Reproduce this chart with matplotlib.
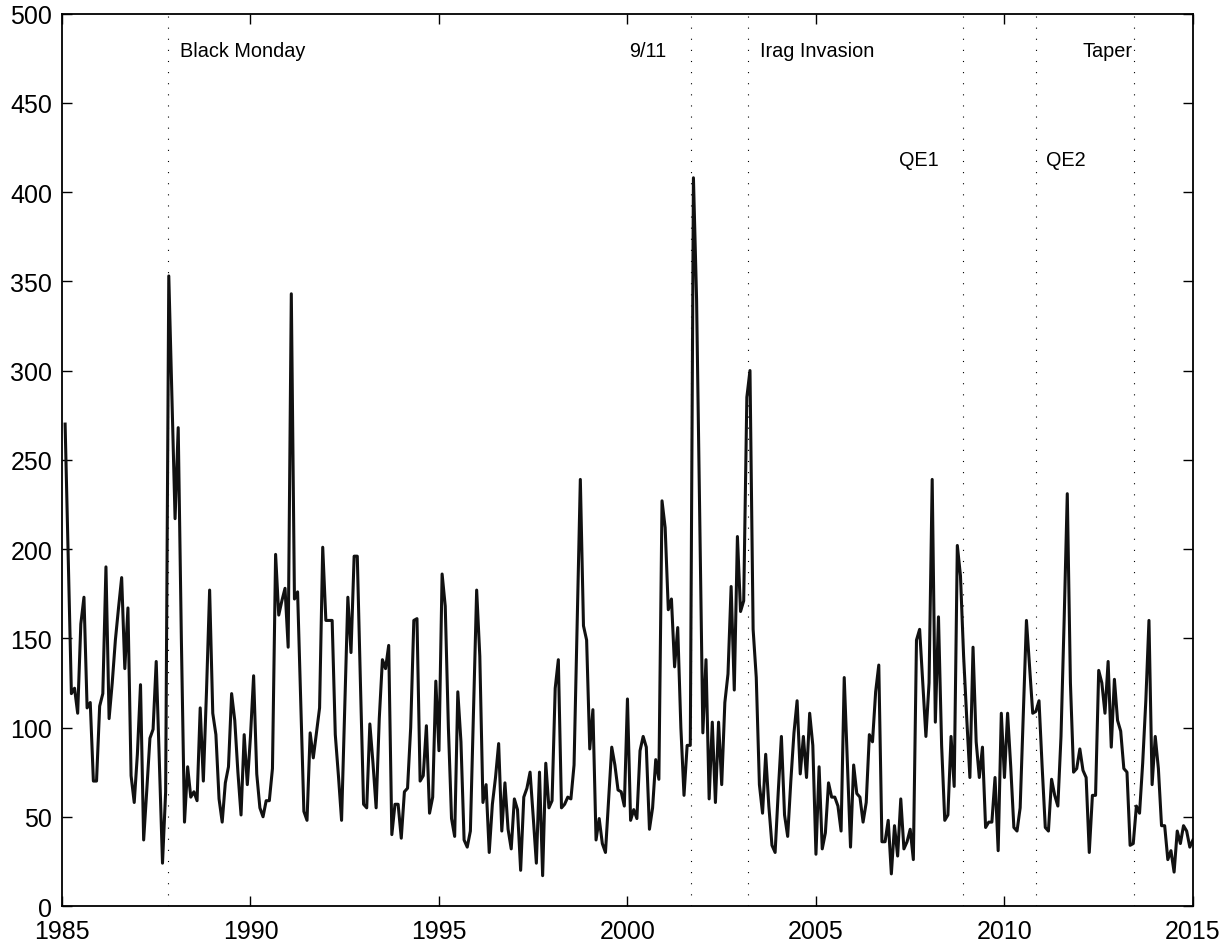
import numpy as np
import matplotlib
matplotlib.use("Agg")
import matplotlib.pyplot as plt

plt.rcParams['font.family'] = ['Liberation Sans', 'DejaVu Sans']

# monthly index values, Jan 1985 .. Dec 2014
values = [
    270, 195, 119, 122, 108, 158, 173, 111, 114, 70,
    70, 112, 119, 190, 105, 125, 149, 167, 184, 133,
    167, 73, 58, 85, 124, 37, 65, 94, 99, 137,
    80, 24, 64, 353, 285, 217, 268, 150, 47, 78,
    61, 64, 59, 111, 70, 120, 177, 108, 96, 60,
    47, 69, 78, 119, 104, 75, 51, 96, 68, 95,
    129, 74, 55, 50, 59, 59, 77, 197, 163, 171,
    178, 145, 343, 172, 176, 115, 53, 48, 97, 83,
    97, 111, 201, 160, 160, 160, 96, 73, 48, 111,
    173, 142, 196, 196, 125, 57, 55, 102, 80, 55,
    105, 138, 133, 146, 40, 57, 57, 38, 64, 66,
    100, 160, 161, 70, 73, 101, 52, 61, 126, 87,
    186, 168, 100, 49, 39, 120, 92, 37, 33, 42,
    110, 177, 140, 58, 68, 30, 57, 72, 91, 42,
    69, 43, 32, 60, 54, 20, 61, 66, 75, 50,
    24, 75, 17, 80, 55, 59, 122, 138, 55, 57,
    61, 60, 79, 160, 239, 157, 149, 88, 110, 37,
    49, 35, 30, 60, 89, 79, 65, 64, 56, 116,
    48, 54, 49, 87, 95, 89, 43, 55, 82, 71,
    227, 212, 166, 172, 134, 156, 100, 62, 90, 90,
    408, 340, 218, 97, 138, 60, 103, 58, 103, 68,
    114, 130, 179, 121, 207, 165, 171, 285, 300, 155,
    128, 68, 52, 85, 56, 34, 30, 64, 95, 51,
    39, 70, 97, 115, 74, 95, 72, 108, 90, 29,
    78, 32, 41, 69, 61, 61, 56, 42, 128, 80,
    33, 79, 63, 61, 47, 58, 96, 92, 120, 135,
    36, 36, 48, 18, 45, 28, 60, 32, 36, 43,
    26, 149, 155, 125, 95, 125, 239, 103, 162, 90,
    48, 51, 95, 67, 202, 185, 140, 105, 72, 145,
    92, 72, 89, 44, 47, 47, 72, 31, 108, 72,
    108, 78, 44, 42, 55, 108, 160, 134, 108, 109,
    115, 78, 44, 42, 71, 62, 56, 95, 160, 231,
    125, 75, 77, 88, 76, 72, 30, 62, 62, 132,
    125, 108, 137, 89, 127, 104, 98, 77, 75, 34,
    35, 56, 52, 80, 115, 160, 68, 95, 77, 45,
    45, 26, 31, 19, 42, 35, 45, 42, 33, 37,
]
dates = 1985 + (np.arange(len(values)) + 1) / 12.0

event_dates = [1987.80, 2001.69, 2003.21, 2008.89, 2010.83, 2013.44]
event_labels = ["Black Monday", "9/11", "Irag Invasion", "QE1", "QE2", "Taper"]
label_x = [1988.13, 2001.03, 2003.52, 2008.27, 2011.10, 2013.39]
label_y = [476, 476, 476, 415, 415, 476]
label_ha = ["left", "right", "left", "right", "left", "right"]

fig = plt.figure(figsize=(12.32, 9.45), dpi=100)
ax = fig.add_axes([0.0503, 0.0402, 0.918, 0.9444])

for d in event_dates:
    ax.axvline(d, color="black", linewidth=0.8, linestyle=(0, (1, 9)))

ax.plot(dates, values, color="#111111", linewidth=2.2)

for lx, ly, txt, ha in zip(label_x, label_y, event_labels, label_ha):
    ax.text(lx, ly, txt, ha=ha, va="baseline", fontsize=14.3)

ax.set_xlim(1985, 2015)
ax.set_ylim(0, 500)
ax.set_xticks(np.arange(1985, 2016, 5))
ax.set_yticks(np.arange(0, 501, 50))
ax.tick_params(direction="in", length=7, width=1, top=True, right=True,
               labelsize=18)
ax.tick_params(axis="x", pad=9)
ax.tick_params(axis="y", pad=7)
for s in ax.spines.values():
    s.set_linewidth(1.3)

fig.savefig("out.png", dpi=100)
